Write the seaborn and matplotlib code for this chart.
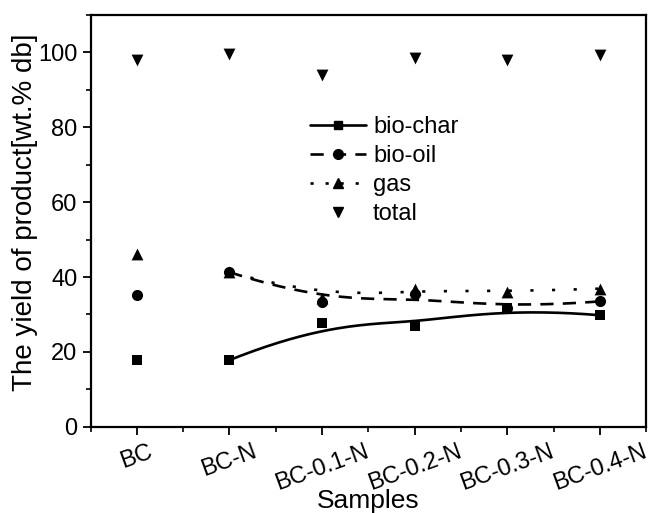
import numpy as np
import pandas as pd
import matplotlib
matplotlib.use("Agg")
import matplotlib.pyplot as plt
import seaborn as sns
from matplotlib.lines import Line2D
from matplotlib.ticker import MultipleLocator

samples = ["BC", "BC-N", "BC-0.1-N", "BC-0.2-N", "BC-0.3-N", "BC-0.4-N"]
bio_char = [17.8, 17.8, 27.7, 26.8, 31.8, 29.8]
bio_oil = [35.1, 41.3, 33.3, 35.4, 31.6, 33.5]
gas = [46.2, 41.3, 34.5, 36.9, 36.0, 36.9]
total = [98.0, 99.6, 94.0, 98.4, 97.9, 99.2]

sns.set_style("ticks")
plt.rcParams['font.family'] = ['Liberation Sans', 'DejaVu Sans']
for key in ["text.color", "axes.labelcolor", "xtick.color", "ytick.color", "axes.edgecolor"]:
    plt.rcParams[key] = "black"

fig = plt.figure(figsize=(6.56, 5.13), dpi=100)
ax = fig.add_axes([0.138, 0.168, 0.847, 0.803])

xpos = np.arange(len(samples))


def bspline(xs, ys, n=200):
    # clamped cubic B-spline with the data as control points (Origin "B-Spline" connect)
    P = np.column_stack([xs, ys]).astype(float)
    k = 3
    m = len(P)
    inner = np.linspace(0, 1, m - k + 1)[1:-1]
    t = np.concatenate([np.zeros(k + 1), inner, np.ones(k + 1)])
    u = np.linspace(0, 1, n)
    u[-1] = 1 - 1e-12

    def N(i, p, uu):
        if p == 0:
            return np.where((t[i] <= uu) & (uu < t[i + 1]), 1.0, 0.0)
        a = np.zeros_like(uu)
        b = np.zeros_like(uu)
        if t[i + p] != t[i]:
            a = (uu - t[i]) / (t[i + p] - t[i]) * N(i, p - 1, uu)
        if t[i + p + 1] != t[i + 1]:
            b = (t[i + p + 1] - uu) / (t[i + p + 1] - t[i + 1]) * N(i + 1, p - 1, uu)
        return a + b

    B = np.array([N(i, k, u) for i in range(m)])
    C = B.T @ P
    return C[:, 0], C[:, 1]


series = [
    ("bio-char", bio_char, "s", "-", 7),
    ("bio-oil", bio_oil, "o", (0, (5, 3.5)), 8),
    ("gas", gas, "^", (0, (1.2, 7)), 8.5),
]

for name, vals, mk, ls, ms in series:
    lx, ly = bspline(xpos[1:], vals[1:])
    sns.lineplot(x=lx, y=ly, ax=ax, color="black", linestyle=ls, lw=1.9,
                 sort=False, estimator=None)
    sns.scatterplot(x=xpos, y=vals, ax=ax, marker=mk, color="black",
                    s=ms ** 2, edgecolor="black", linewidth=0, zorder=5)

sns.scatterplot(x=xpos, y=total, ax=ax, marker="v", color="black",
                s=8.5 ** 2, edgecolor="black", linewidth=0, zorder=5)

ax.set_xlim(-0.5, 5.5)
ax.set_ylim(0, 110)
ax.set_xticks(xpos)
ax.set_xticklabels(samples, rotation=20, fontsize=17)
ax.xaxis.set_minor_locator(MultipleLocator(0.5))
ax.set_yticks([0, 20, 40, 60, 80, 100])
ax.yaxis.set_minor_locator(MultipleLocator(10))
ax.tick_params(axis="y", labelsize=17, direction="out", length=6, width=1.3)
ax.tick_params(axis="x", direction="out", length=6, width=1.3, pad=4)
ax.tick_params(which="minor", direction="out", length=3.5, width=1.2)
for s in ax.spines.values():
    s.set_linewidth(1.6)
    s.set_visible(True)

ax.set_xlabel("Samples", fontsize=19, labelpad=-4)
ax.set_ylabel("The yield of product[wt.% db]", fontsize=20)
ax.yaxis.set_label_coords(-0.095, 0.52)

handles = [
    Line2D([], [], color="black", lw=1.9, ls="-", marker="s", markersize=6),
    Line2D([], [], color="black", lw=1.9, ls=(0, (5, 3.5)), marker="o", markersize=7),
    Line2D([], [], color="black", lw=1.9, ls=(0, (1.2, 4.5)), marker="^", markersize=7.5),
    Line2D([], [], color="black", lw=0, marker="v", markersize=7.5),
]
ax.legend(handles, ["bio-char", "bio-oil", "gas", "total"], frameon=False,
          fontsize=17, handlelength=2.35, labelspacing=0.3, handletextpad=0.3,
          borderpad=0.2, loc="upper left", bbox_to_anchor=(0.366, 0.795))

fig.savefig("out.png", dpi=100)
